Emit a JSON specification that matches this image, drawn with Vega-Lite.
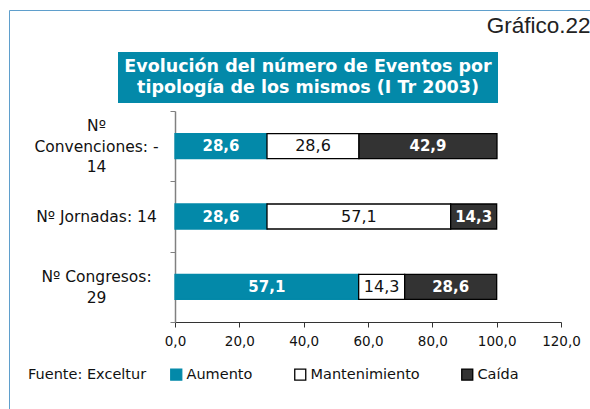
{
  "$schema": "https://vega.github.io/schema/vega-lite/v6.json",
  "padding": {"left": 8, "top": 9, "right": 0, "bottom": 0},
  "background": "white",
  "title": {"text": "Gráfico.22", "anchor": "end", "frame": "bounds", "font": "Liberation Sans", "fontSize": 22.5, "fontWeight": "normal", "color": "#222222", "offset": -28, "dx": -5},
  "width": 386,
  "height": 211,
  "config": {
    "locale": {"number": {"decimal": ",", "thousands": ".", "grouping": [3], "currency": ["", " €"]}},
    "view": {"stroke": null},
    "font": "DejaVu Sans"
  },
  "datasets": {
    "eventos": [
      {"cat": "Nº Convenciones: -14", "tipo": "Aumento", "ord": 1, "value": 28.6},
      {"cat": "Nº Convenciones: -14", "tipo": "Mantenimiento", "ord": 2, "value": 28.6},
      {"cat": "Nº Convenciones: -14", "tipo": "Caída", "ord": 3, "value": 42.9},
      {"cat": "Nº Jornadas: 14", "tipo": "Aumento", "ord": 1, "value": 28.6},
      {"cat": "Nº Jornadas: 14", "tipo": "Mantenimiento", "ord": 2, "value": 57.1},
      {"cat": "Nº Jornadas: 14", "tipo": "Caída", "ord": 3, "value": 14.3},
      {"cat": "Nº Congresos: 29", "tipo": "Aumento", "ord": 1, "value": 57.1},
      {"cat": "Nº Congresos: 29", "tipo": "Mantenimiento", "ord": 2, "value": 14.3},
      {"cat": "Nº Congresos: 29", "tipo": "Caída", "ord": 3, "value": 28.6}
    ],
    "titulo": [{"h": "titulo"}],
    "marco": [{"b": "marco"}]
  },
  "layer": [
    {
      "data": {"name": "eventos"},
      "transform": [
        {"stack": "value", "groupby": ["cat"], "sort": [{"field": "ord", "order": "ascending"}], "as": ["x0", "x1"]}
      ],
      "mark": {"type": "bar", "size": 25, "strokeWidth": 1.3, "opacity": 1},
      "encoding": {
        "y": {
          "field": "cat", "type": "nominal",
          "sort": ["Nº Convenciones: -14", "Nº Jornadas: 14", "Nº Congresos: 29"],
          "scale": {"paddingInner": 0, "paddingOuter": 0},
          "axis": {
            "title": null, "domain": true, "ticks": true, "tickBand": "extent", "tickSize": 5,
            "domainColor": "#808080", "tickColor": "#808080", "domainWidth": 1.5, "tickWidth": 1,
            "labelFont": "DejaVu Sans", "labelFontSize": 15.5, "labelColor": "#111111",
            "labelAlign": "center", "labelBaseline": "middle", "labelPadding": 74,
            "labelLineHeight": 20.5, "labelLimit": 0,
            "labelOffset": {"condition": [
              {"test": "datum.value == 'Nº Convenciones: -14'", "value": -20.5},
              {"test": "datum.value == 'Nº Congresos: 29'", "value": -10}
            ], "value": 0},
            "labelExpr": "datum.label == 'Nº Convenciones: -14' ? ['Nº', 'Convenciones: -', '14'] : datum.label == 'Nº Congresos: 29' ? ['Nº Congresos:', '29'] : datum.label"
          }
        },
        "x": {
          "field": "x0", "type": "quantitative",
          "scale": {"domain": [0, 120], "nice": false},
          "axis": {
            "title": null, "values": [0, 20, 40, 60, 80, 100, 120], "format": ".1f",
            "tickSize": 5, "domainColor": "#333333", "tickColor": "#333333", "grid": false,
            "labelFont": "DejaVu Sans", "labelFontSize": 13.5, "labelColor": "#111111",
            "labelPadding": 7, "labelFlush": false, "labelOverlap": false
          }
        },
        "x2": {"field": "x1"},
        "fill": {
          "field": "tipo", "type": "nominal",
          "scale": {"domain": ["Aumento", "Mantenimiento", "Caída"], "range": ["#0389a9", "#ffffff", "#333333"]},
          "legend": {
            "title": "Fuente: Exceltur", "orient": "none", "legendX": -147, "legendY": 256,
            "direction": "horizontal", "titleOrient": "left", "titleFontWeight": "normal",
            "titleFontSize": 14.5, "titleFont": "DejaVu Sans", "titleColor": "#111111", "titlePadding": 22,
            "labelFontSize": 14.5, "labelFont": "DejaVu Sans", "labelColor": "#111111",
            "symbolType": "square", "symbolSize": 121, "symbolStrokeWidth": 1.3, "symbolOpacity": 1,
            "labelOffset": 3, "columnPadding": 39, "padding": 0
          }
        },
        "stroke": {
          "field": "tipo", "type": "nominal",
          "scale": {"domain": ["Aumento", "Mantenimiento", "Caída"], "range": ["#0389a9", "#000000", "#000000"]},
          "legend": {
            "title": "Fuente: Exceltur", "orient": "none", "legendX": -147, "legendY": 256,
            "direction": "horizontal", "titleOrient": "left", "titleFontWeight": "normal",
            "titleFontSize": 14.5, "titleFont": "DejaVu Sans", "titleColor": "#111111", "titlePadding": 22,
            "labelFontSize": 14.5, "labelFont": "DejaVu Sans", "labelColor": "#111111",
            "symbolType": "square", "symbolSize": 121, "symbolStrokeWidth": 1.3, "symbolOpacity": 1,
            "labelOffset": 3, "columnPadding": 39, "padding": 0
          }
        }
      }
    },
    {
      "data": {"name": "eventos"},
      "transform": [
        {"stack": "value", "groupby": ["cat"], "sort": [{"field": "ord", "order": "ascending"}], "as": ["x0", "x1"]},
        {"filter": "datum.tipo != 'Mantenimiento'"},
        {"fold": ["x0", "x1"], "as": ["edge", "pos"]}
      ],
      "mark": {"type": "text", "color": "white", "fontWeight": "bold", "fontSize": 15, "font": "DejaVu Sans", "align": "center", "baseline": "middle"},
      "encoding": {
        "y": {"field": "cat", "type": "nominal", "sort": ["Nº Convenciones: -14", "Nº Jornadas: 14", "Nº Congresos: 29"]},
        "x": {"field": "pos", "type": "quantitative", "aggregate": "mean"},
        "detail": {"field": "tipo"},
        "text": {"field": "value", "type": "quantitative", "aggregate": "max", "format": ".1f"}
      }
    },
    {
      "data": {"name": "eventos"},
      "transform": [
        {"stack": "value", "groupby": ["cat"], "sort": [{"field": "ord", "order": "ascending"}], "as": ["x0", "x1"]},
        {"filter": "datum.tipo == 'Mantenimiento'"},
        {"fold": ["x0", "x1"], "as": ["edge", "pos"]}
      ],
      "mark": {"type": "text", "color": "#111111", "fontWeight": "normal", "fontSize": 16, "font": "DejaVu Sans", "align": "center", "baseline": "middle"},
      "encoding": {
        "y": {"field": "cat", "type": "nominal", "sort": ["Nº Convenciones: -14", "Nº Jornadas: 14", "Nº Congresos: 29"]},
        "x": {"field": "pos", "type": "quantitative", "aggregate": "mean"},
        "detail": {"field": "tipo"},
        "text": {"field": "value", "type": "quantitative", "aggregate": "max", "format": ".1f"}
      }
    },
    {
      "data": {"name": "titulo"},
      "mark": {"type": "point", "opacity": 0, "size": 0},
      "encoding": {
        "shape": {
          "field": "h", "type": "nominal",
          "legend": {
            "title": ["Evolución del número de Eventos por", "tipología de los mismos (I Tr 2003)"],
            "orient": "none", "legendX": -57, "legendY": -59,
            "fillColor": "#0389a9", "padding": 6,
            "titleColor": "white", "titleFont": "DejaVu Sans", "titleFontWeight": "bold", "titleFontSize": 17.5,
            "titleLineHeight": 21, "titleAlign": "center", "titleAnchor": "middle", "titleLimit": 0,
            "titleBaseline": "top", "titlePadding": 0,
            "symbolSize": 0, "symbolOpacity": 0, "symbolStrokeWidth": 0,
            "labelExpr": "''", "labelFontSize": 1, "labelOffset": 0
          }
        }
      }
    },
    {
      "data": {"name": "marco"},
      "mark": {"type": "point", "opacity": 0, "size": 0},
      "encoding": {
        "color": {
          "field": "b", "type": "nominal",
          "legend": {
            "title": null, "orient": "none", "legendX": -166, "legendY": -101,
            "strokeColor": "#5f9fcc", "padding": 201,
            "symbolSize": 0, "symbolOpacity": 0, "symbolStrokeWidth": 0,
            "labelExpr": "'.'", "labelOpacity": 0, "labelFontSize": 1, "labelOffset": 182
          }
        }
      }
    }
  ]
}
